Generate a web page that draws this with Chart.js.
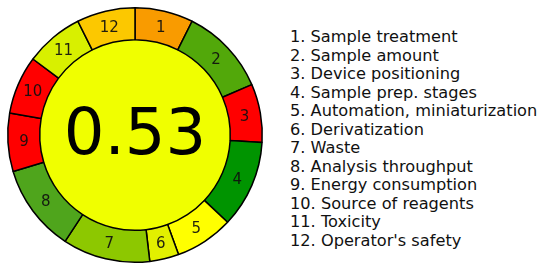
<!DOCTYPE html>
<html>
<head>
<meta charset="utf-8">
<script src="https://cdn.jsdelivr.net/npm/chart.js@4.4.0/dist/chart.umd.min.js"></script>
<style>
  html, body { margin: 0; padding: 0; background: #fff; }
  #wrap { position: relative; width: 550px; height: 275px; }
  #box { position: absolute; left: 0; top: 0; width: 270px; height: 270px; }
  #legend {
    position: absolute; left: 290px; top: 28px; margin: 0; padding: 0;
    list-style: none; font-family: "DejaVu Sans", sans-serif; font-size: 16.2px;
    line-height: 18.5px; color: #111;
  }
</style>
</head>
<body>
<div id="wrap">
  <div id="box"><canvas id="c"></canvas></div>
  <ul id="legend"></ul>
</div>
<script>
// критерии, веса (ширина сегмента) и цвета оценок
const criteria = [
  "Sample treatment", "Sample amount", "Device positioning", "Sample prep. stages",
  "Automation, miniaturization", "Derivatization", "Waste", "Analysis throughput",
  "Energy consumption", "Source of reagents", "Toxicity", "Operator's safety"
];
const weights = [2, 3, 2, 3, 2, 1, 3, 3, 2, 2, 2, 2];
const colors = [
  "#f99b00", "#52a80a", "#ff0000", "#009400", "#ffff00", "#e2f000",
  "#8dc800", "#4fa51c", "#ff0000", "#ff0000", "#d8f000", "#fcc800"
];
const score = "0.53";
const scoreColor = "#f0ff00";

document.getElementById("legend").innerHTML =
  criteria.map((t, i) => `<li>${i + 1}. ${t}</li>`).join("");

// номера сегментов и итоговая оценка в центре
const labelsPlugin = {
  id: "agreeLabels",
  afterDatasetsDraw(chart) {
    const ctx = chart.ctx;
    const meta = chart.getDatasetMeta(0);
    ctx.save();
    ctx.textAlign = "center";
    ctx.textBaseline = "middle";
    ctx.fillStyle = "rgba(15,15,15,0.92)";
    ctx.font = "15px 'DejaVu Sans'";
    meta.data.forEach((arc, i) => {
      const p = arc.getProps(["x", "y", "startAngle", "endAngle", "innerRadius", "outerRadius"]);
      const a = (p.startAngle + p.endAngle) / 2;
      const r = (p.innerRadius + p.outerRadius) / 2;
      ctx.fillText(String(i + 1), p.x + Math.cos(a) * r, p.y + Math.sin(a) * r + 1);
    });
    const c = meta.data[0];
    ctx.fillStyle = "#000";
    ctx.font = "64px 'DejaVu Sans'";
    ctx.fillText(score, c.x, c.y + 2);
    ctx.restore();
  }
};

new Chart(document.getElementById("c"), {
  type: "doughnut",
  data: {
    labels: criteria,
    datasets: [
      {
        data: weights,
        backgroundColor: colors,
        borderColor: "#000",
        borderWidth: 1.5,
        weight: 32
      },
      {
        data: [1],
        backgroundColor: [scoreColor],
        borderWidth: 0,
        weight: 95.5
      }
    ]
  },
  options: {
    responsive: true,
    maintainAspectRatio: false,
    animation: false,
    cutout: 0,
    layout: { padding: 7 },
    plugins: {
      legend: { display: false },
      tooltip: { enabled: false }
    }
  },
  plugins: [labelsPlugin]
});
</script>
</body>
</html>
